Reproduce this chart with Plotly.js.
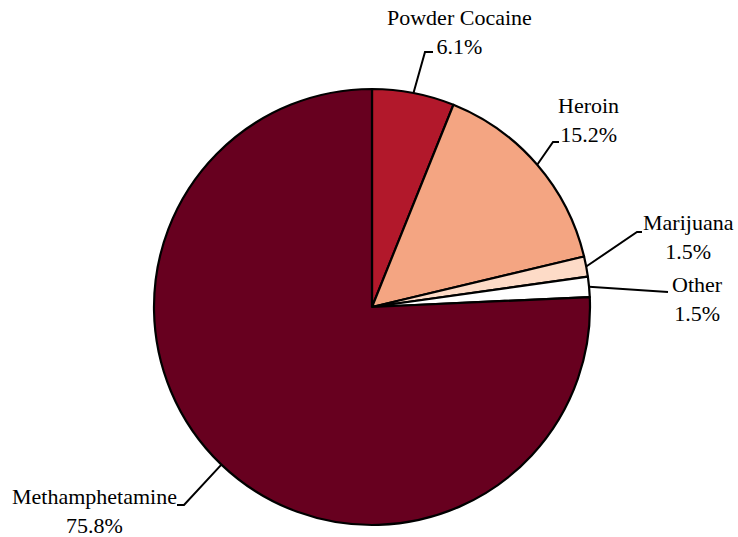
<!DOCTYPE html>
<html><head><meta charset="utf-8">
<script src="https://cdn.plot.ly/plotly-3.0.1.min.js"></script>
<style>html,body{margin:0;padding:0;background:#fff}</style>
</head><body>
<div id="chart" style="width:738px;height:537px"></div>
<script>
// Data
const categories = ["Powder Cocaine", "Heroin", "Marijuana", "Other", "Methamphetamine"];
const shares = [6.1, 15.2, 1.5, 1.5, 75.8];
const sliceColors = ["#B2182B", "#F4A582", "#FDDBC7", "#FFFFFF", "#67001F"];

// Layout geometry (pixels)
const W = 738, H = 537;
const M = {l: 154, r: 148, t: 89, b: 12};
const CX = M.l + (W - M.l - M.r) / 2, CY = M.t + (H - M.t - M.b) / 2;
const R = (W - M.l - M.r) / 2;
// label placement: elbow, end of leader, label centre (pixels)
const labelPlace = [
  {elbow: [425, 52], end: [433, 52], text: [459, 32]},
  {elbow: [553, 142], end: [559, 142], text: [588, 120]},
  {elbow: [637, 232], end: [642, 232], text: [688, 237]},
  {elbow: [668, 292], end: [668, 292], text: [697, 299]},
  {elbow: [184, 505], end: [177, 505], text: [94, 511]}
];

const PW = W - M.l - M.r, PH = H - M.t - M.b;
const px = x => (x - M.l) / PW;
const py = y => 1 - (y - M.t) / PH;

const total = shares.reduce((a, b) => a + b, 0);
let cum = 0;
const shapes = [], annotations = [];
shares.forEach((v, i) => {
  const mid = (cum + v / 2) / total * 2 * Math.PI;
  cum += v;
  const sx = CX + R * Math.sin(mid), sy = CY - R * Math.cos(mid);
  const p = labelPlace[i];
  shapes.push({
    type: 'path', xref: 'paper', yref: 'paper',
    path: `M ${px(sx)} ${py(sy)} L ${px(p.elbow[0])} ${py(p.elbow[1])} L ${px(p.end[0])} ${py(p.end[1])}`,
    line: {color: '#000', width: 2}
  });
  annotations.push({
    xref: 'paper', yref: 'paper', x: px(p.text[0]), y: py(p.text[1]),
    xanchor: 'center', yanchor: 'middle', align: 'center', showarrow: false,
    text: categories[i] + '<br>' + v.toFixed(1) + '%',
    font: {family: 'Liberation Serif', size: 22, color: '#000'}
  });
});

Plotly.newPlot('chart', [{
  type: 'pie',
  labels: categories,
  values: shares,
  sort: false,
  direction: 'clockwise',
  rotation: 0,
  textinfo: 'none',
  hoverinfo: 'label+percent',
  marker: {colors: sliceColors, line: {color: '#000', width: 2.2}},
  showlegend: false
}], {
  width: W, height: H,
  margin: M,
  paper_bgcolor: '#fff',
  font: {family: 'Liberation Serif'},
  showlegend: false,
  shapes: shapes,
  annotations: annotations
}, {displayModeBar: false, staticPlot: true});
</script>
</body></html>
